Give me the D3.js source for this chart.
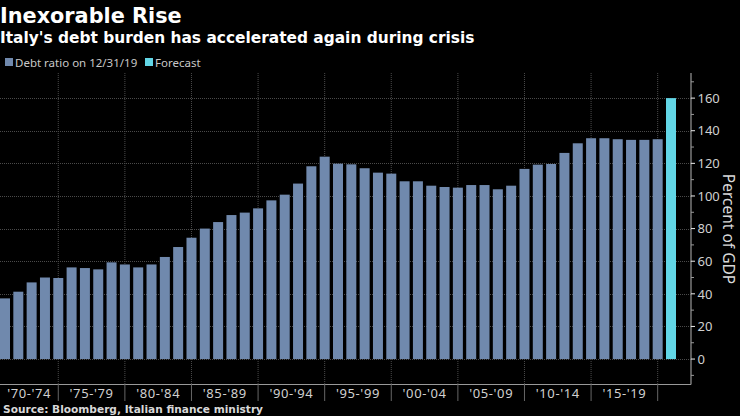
<!DOCTYPE html>
<html>
<head>
<meta charset="utf-8">
<script src="https://cdn.jsdelivr.net/npm/d3@7"></script>
<style>
  html, body { margin: 0; padding: 0; background: #000; }
  svg { display: block; }
  text { font-family: "Noto Sans", sans-serif; }
  .heavy { font-family: "DejaVu Sans", sans-serif; font-weight: bold; }
</style>
</head>
<body>
<div id="chart"></div>
<script>
// values, 1970-2019 then the forecast bar
var years = d3.range(1970, 2020).map(String).concat(["Forecast"]);
var debtRatio = [37.2, 41.3, 47, 50, 49.7, 56.2, 55.8, 55, 59.3, 58,
  56.2, 58, 62.6, 68.7, 74.4, 80, 84, 88.3, 89.8, 92.4,
  97.3, 100.8, 107.6, 118.2, 124.1, 119.8, 119.4, 117, 114.3, 113.7,
  109, 109, 106.3, 105.5, 105.1, 106.7, 106.7, 104.1, 106.3, 116.6,
  119.2, 119.6, 126.4, 132.3, 135.4, 135.4, 134.8, 134.4, 134.4, 134.8, 160];
var periodLabels = ["'70-'74", "'75-'79", "'80-'84", "'85-'89", "'90-'94",
  "'95-'99", "'00-'04", "'05-'09", "'10-'14", "'15-'19"];
var yTicks = [0, 20, 40, 60, 80, 100, 120, 140, 160];
var yMinorTicks = [-10, 10, 30, 50, 70, 90, 110, 130, 150, 170];
var legendItems = ["Debt ratio on 12/31/19", "Forecast"];

var svgWidth = 740;
var svgHeight = 416;
var blue = "#7089ad";
var cyan = "#62d6e6";

var svg = d3.select("#chart").append("svg")
  .attr("width", svgWidth)
  .attr("height", svgHeight);

svg.append("rect").attr("width", svgWidth).attr("height", svgHeight).attr("fill", "#000");

// scales
var x = d3.scaleBand().domain(years).range([-1.66, 677.66]).paddingInner(0.25).paddingOuter(0.125);
var y = d3.scaleLinear().domain([-15.6, 175.4]).range([384.5, 73]);
var centre = function(yr) { return x(yr) + x.bandwidth() / 2; };

// each group ends on the bar of its last year
var groupEnds = years.filter(function(yr) { return yr !== "Forecast" && +yr % 5 === 4; });

// grid
svg.append("g").selectAll("line").data(yTicks).enter().append("line")
  .attr("x1", 0).attr("x2", 691)
  .attr("y1", function(d) { return Math.round(y(d)) + 0.5; })
  .attr("y2", function(d) { return Math.round(y(d)) + 0.5; })
  .attr("stroke", "#4a4a4a").attr("stroke-width", 1).attr("stroke-dasharray", "1,1");

svg.append("g").selectAll("line").data(groupEnds).enter().append("line")
  .attr("x1", centre).attr("x2", centre)
  .attr("y1", 73).attr("y2", 384)
  .attr("stroke", "#4a4a4a").attr("stroke-width", 1).attr("stroke-dasharray", "1,1");

// bars
svg.append("g").selectAll("rect").data(debtRatio).enter().append("rect")
  .attr("x", function(d, i) { return x(years[i]); })
  .attr("width", x.bandwidth())
  .attr("y", function(d) { return y(d); })
  .attr("height", function(d) { return y(0) - y(d); })
  .attr("fill", function(d, i) { return years[i] === "Forecast" ? cyan : blue; });

// y axis on the right
var yAxis = svg.append("g").attr("transform", "translate(691,0)");
yAxis.append("line").attr("y1", 73).attr("y2", 384.5).attr("stroke", "#999").attr("stroke-width", 1.2);
yAxis.selectAll(".minor").data(yMinorTicks).enter().append("line")
  .attr("class", "minor").attr("x2", 3)
  .attr("y1", y).attr("y2", y).attr("stroke", "#999");
yAxis.selectAll(".major").data(yTicks).enter().append("line")
  .attr("class", "major").attr("x2", 4)
  .attr("y1", y).attr("y2", y).attr("stroke", "#eee");
yAxis.selectAll("text").data(yTicks).enter().append("text")
  .attr("x", 6.5).attr("y", y).attr("dy", "0.36em")
  .attr("font-size", 13).attr("fill", "#d0d0d0")
  .text(function(d) { return d; });

svg.append("text")
  .attr("transform", "translate(723,229) rotate(90)")
  .attr("text-anchor", "middle")
  .attr("font-size", 15.5).attr("fill", "#d8d8d8")
  .text("Percent of GDP");

// x axis along the bottom
svg.append("line").attr("x1", 0).attr("x2", 691)
  .attr("y1", 384.5).attr("y2", 384.5).attr("stroke", "#999").attr("stroke-width", 1.2);
svg.append("g").selectAll("line").data(groupEnds).enter().append("line")
  .attr("x1", centre).attr("x2", centre)
  .attr("y1", 384).attr("y2", 401).attr("stroke", "#666");
svg.append("g").selectAll("text").data(periodLabels).enter().append("text")
  .attr("x", function(d, i) {
    var right = centre(groupEnds[i]);
    var left = i === 0 ? 0 : centre(groupEnds[i - 1]);
    return (left + right) / 2;
  })
  .attr("y", 398).attr("text-anchor", "middle")
  .attr("font-size", 13).attr("letter-spacing", 0.6).attr("fill", "#d0d0d0")
  .text(function(d) { return d; });

// titles
svg.append("text").attr("class", "heavy").attr("x", 0).attr("y", 23)
  .attr("font-size", 20.8).attr("fill", "#fff")
  .text("Inexorable Rise");
svg.append("text").attr("class", "heavy").attr("x", 0).attr("y", 43)
  .attr("font-size", 15.4).attr("fill", "#fff")
  .text("Italy's debt burden has accelerated again during crisis");

// legend
var legendX = [5, 145];
var legendColors = [blue, cyan];
var legend = svg.append("g").selectAll("g").data(legendItems).enter().append("g")
  .attr("transform", function(d, i) { return "translate(" + legendX[i] + ",58)"; });
legend.append("rect").attr("width", 8).attr("height", 8)
  .attr("fill", function(d, i) { return legendColors[i]; });
legend.append("text").attr("x", 10).attr("y", 8.5)
  .attr("font-size", 11.5).attr("fill", "#c8c8c8")
  .text(function(d) { return d; });

// source
svg.append("text").attr("class", "heavy").attr("x", 3).attr("y", 413)
  .attr("font-size", 10.6).attr("fill", "#d8d8d8")
  .text("Source: Bloomberg, Italian finance ministry");
</script>
</body>
</html>
